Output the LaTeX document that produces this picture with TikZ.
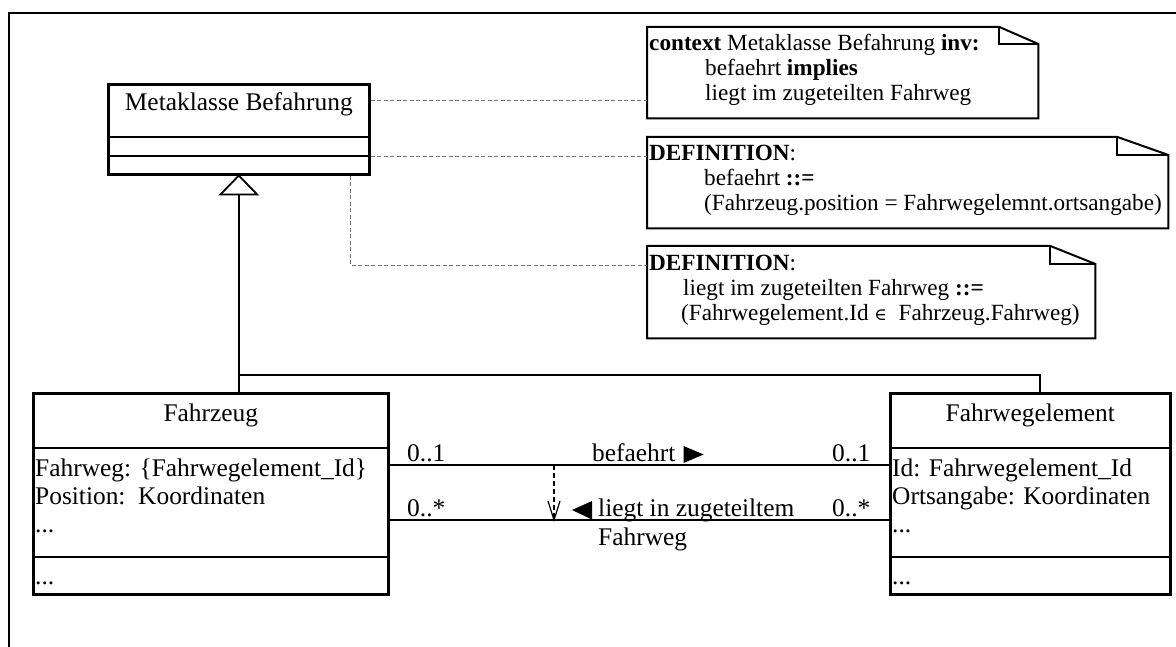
\documentclass[tikz,border=0pt]{standalone}
\usepackage{fontspec}
\setmainfont{Liberation Serif}
\newfontfamily\elemsymbol{DejaVu Serif}
\usetikzlibrary{calc}
% UML note outline with a folded top-right corner, drawn round a named node
\newcommand{\umlnotebox}[3]{%
  \draw[notebox] (#1.north west) -- ($(#1.north east)+(-#2,0)$)
    -- ($(#1.north east)+(0,#3)$) -- (#1.south east) -- (#1.south west) -- cycle;
  \draw[notebox] ($(#1.north east)+(-#2,0)$) -- ($(#1.north east)+(-#2,#3)$)
    -- ($(#1.north east)+(0,#3)$);}
\begin{document}
\begin{tikzpicture}[x=1pt,y=-1pt,
  classbox/.style={draw, line width=2.6pt, rectangle, anchor=north west, inner sep=0pt},
  sepline/.style={line width=2.6pt},
  assoc/.style={line width=1.6pt},
  notebox/.style={line width=2pt, line join=miter},
  noteframe/.style={rectangle, anchor=north west, inner sep=0pt},
  anchorline/.style={black!55, line width=0.9pt, dash pattern=on 4pt off 2.5pt},
  clsfont/.style={font=\fontsize{25.4}{28}\selectfont},
  lbl/.style={font=\fontsize{25.4}{28}\selectfont, inner sep=0pt, anchor=base west,
    text height=18pt, text depth=6pt},
  % the base anchor of a three-line note text is the baseline of its last line
  notetext/.style={font=\fontsize{23.2}{25}\selectfont, inner sep=0pt, anchor=base west,
    align=left},
]
\useasboundingbox (0,0) rectangle (1176,647);

% frame
\draw[line width=2.6pt] (9,647) -- (9,13) -- (1176,13);

% classes
\node[classbox, minimum width=261pt, minimum height=90pt] (meta) at (107,83) {};
\draw[sepline] (meta.west |- 0,137) -- (meta.east |- 0,137);
\draw[sepline] (meta.west |- 0,156) -- (meta.east |- 0,156);
\node[clsfont, anchor=base, inner sep=0pt] (metaname) at ($(meta.north)+(0,28)$) {Metaklasse Befahrung};

\node[classbox, minimum width=355pt, minimum height=201pt] (fz) at (32,392) {};
\draw[sepline] (fz.west |- 0,448) -- (fz.east |- 0,448);
\draw[sepline] (fz.west |- 0,557) -- (fz.east |- 0,557);
\node[clsfont, anchor=base, inner sep=0pt] (fzname) at ($(fz.north)+(0,29)$) {Fahrzeug};
\node[lbl] (fza1) at (35,476) {Fahrweg: \{Fahrwegelement\_Id\}};
\node[lbl] (fza2) at (35,504) {Position:\ \ Koordinaten};
\node[lbl] (fza3) at (35,532) {...};
\node[lbl] (fzo1) at (35,584) {...};

\node[classbox, minimum width=280pt, minimum height=201pt] (fwe) at (889,392) {};
\draw[sepline] (fwe.west |- 0,448) -- (fwe.east |- 0,448);
\draw[sepline] (fwe.west |- 0,557) -- (fwe.east |- 0,557);
\node[clsfont, anchor=base, inner sep=0pt] (fwename) at ($(fwe.north)+(0,29)$) {Fahrwegelement};
\node[lbl] (fwea1) at (892,476) {Id: Fahrwegelement\_Id};
\node[lbl] (fwea2) at (892,504) {Ortsangabe: Koordinaten};
\node[lbl] (fwea3) at (892,532) {...};
\node[lbl] (fweo1) at (892,584) {...};

% notes
\node[noteframe, minimum width=391pt, minimum height=91pt] (n1) at (647,27) {};
\umlnotebox{n1}{39}{17}
\node[notetext] (n1t) at (649,101) {\textbf{context} Metaklasse Befahrung \textbf{inv:}\\
  \hspace*{56pt}befaehrt \textbf{implies}\\
  \hspace*{56pt}liegt im zugeteilten Fahrweg};

\node[noteframe, minimum width=521pt, minimum height=91pt] (n2) at (647,137) {};
\umlnotebox{n2}{51}{18}
\node[notetext] (n2t) at (649,211) {\textbf{DEFINITION}:\\
  \hspace*{55pt}befaehrt \textbf{::=}\\
  \hspace*{55pt}(Fahrzeug.position = Fahrwegelemnt.ortsangabe)};

\node[noteframe, minimum width=448pt, minimum height=92pt] (n3) at (647,246) {};
\umlnotebox{n3}{45}{18}
\node[notetext] (n3t) at (649,320) {\textbf{DEFINITION}:\\
  \hspace*{34pt}liegt im zugeteilten Fahrweg \textbf{::=}\\
  \hspace*{32pt}(Fahrwegelement.Id {\elemsymbol\fontsize{17}{20}\selectfont ∈}\ \ Fahrzeug.Fahrweg)};

% note anchors
\draw[anchorline] (meta.east |- 0,100) -- (n1.west |- 0,100);
\draw[anchorline] (meta.east |- 0,156) -- (n2.west |- 0,156);
\draw[anchorline] (meta.south -| 350,0) -- (350,265) -- (n3.west |- 0,265);

% generalization
\coordinate (gbase) at ($(meta.south)+(0,19)$);
\coordinate (gjoin) at (meta.south |- 0,375);
\coordinate (fwetop) at (1040,0 |- fwe.north);
\draw[assoc] (gbase) -- (gbase |- fz.north);
\draw[assoc] (gjoin) -- (gjoin -| fwetop) -- (fwetop);
\draw[line width=1.8pt, fill=white, line join=miter] (meta.south) -- ($(gbase)+(-18.5,0)$) -- ($(gbase)+(18.5,0)$) -- cycle;

% associations
\coordinate (a1l) at (fz.east |- 0,465);
\coordinate (a2l) at (fz.east |- 0,520);
\draw[assoc] (a1l) -- (a1l -| fwe.west);
\draw[assoc] (a2l) -- (a2l -| fwe.west);
\node[lbl] (m1l) at (407,461) {0..1};
\node[lbl] (m2l) at (407,516) {0..*};
\node[lbl] (m1r) at (832,461) {0..1};
\node[lbl] (m2r) at (832,516) {0..*};
\node[lbl] (r1) at (592,461) {befaehrt};
\fill ($(r1.base east)+(8,-15)$) -- ($(r1.base east)+(28,-6.5)$) -- ($(r1.base east)+(8,2)$) -- cycle;
\node[lbl] (r2) at (598,516) {liegt in zugeteiltem};
\node[lbl] (r2b) at (598,545) {Fahrweg};
\fill ($(r2.base west)+(-6,-15)$) -- ($(r2.base west)+(-26,-6)$) -- ($(r2.base west)+(-6,3.5)$) -- cycle;

% dependency between the two associations
\coordinate (dtop) at (554,0 |- a1l);
\coordinate (dtip) at (554,0 |- a2l);
\draw[line width=1.2pt, dash pattern=on 5pt off 3pt] (dtop) -- (dtip);
\draw[line width=1.2pt] ($(dtip)+(-6,-19)$) -- (dtip) -- ($(dtip)+(6,-19)$);
\end{tikzpicture}
\end{document}
